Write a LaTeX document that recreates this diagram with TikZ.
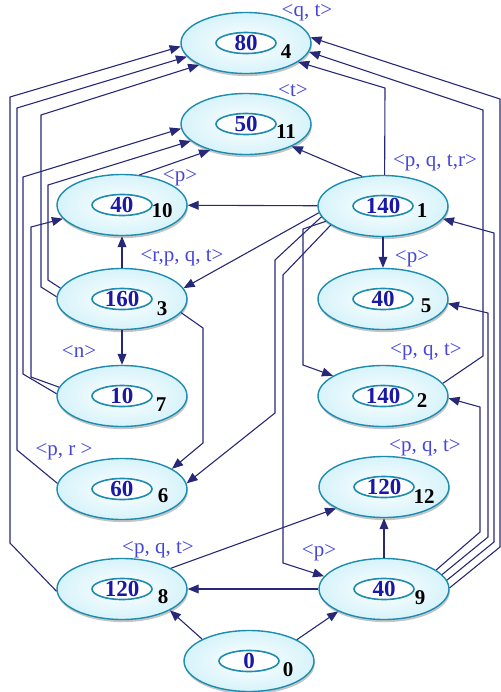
\documentclass[tikz,border=0pt]{standalone}
\usepackage{fontspec}
\setmainfont{Liberation Serif}
\usepackage{tikz}
\usetikzlibrary{shapes.geometric, arrows.meta, shadows}
\usepackage{xcolor}
\definecolor{ringcol}{RGB}{30,140,175}
\definecolor{fillcol}{RGB}{214,243,250}
\definecolor{valcol}{RGB}{25,25,165}
\definecolor{tagcol}{RGB}{70,70,220}
\definecolor{linkcol}{RGB}{40,40,120}

\begin{document}
\begin{tikzpicture}[x=0.5pt, y=-0.5pt,
    state/.style={ellipse, draw=ringcol, line width=0.7pt, minimum width=65pt, minimum height=30.5pt,
        inner color=white, outer color=fillcol,
        drop shadow={shadow xshift=0.4pt, shadow yshift=-1.3pt, fill=black!45}},
    val/.style={ellipse, draw=ringcol, line width=0.8pt, fill=white, minimum width=30pt, minimum height=10.5pt,
        inner sep=0pt, text height=7pt, text depth=0pt, text=valcol, font=\fontsize{11.5}{12}\selectfont\bfseries},
    num/.style={inner sep=0pt, font=\fontsize{10.5}{11}\selectfont\bfseries},
    tag/.style={inner sep=0pt, text=tagcol, font=\fontsize{10.5}{12}\selectfont},
    link/.style={draw=linkcol, line width=0.55pt, -{Triangle[length=5.5pt, width=4.4pt]}}]
    \useasboundingbox (0,0) rectangle (501,692);
    % top
    \node[state] (n4) at (246,43) {};
    \node[val] (v4) at (n4) {80};
    \node[num] (i4) at (286,52) {4};
    \node[tag] (t4) at (307,13) {<q, t>};
    \node[state] (n11) at (246,124) {};
    \node[val] (v11) at (n11) {50};
    \node[num] (i11) at (286,132) {11};
    \node[tag] (t11) at (293,91) {<t>};
    % left column
    \node[state] (n10) at (122,205) {};
    \node[val] (v10) at (n10) {40};
    \node[num] (i10) at (162,211) {10};
    \node[tag] (t10) at (180,178) {<p>};
    \node[state] (n3) at (122,299) {};
    \node[val] (v3) at (n3) {160};
    \node[num] (i3) at (162,309) {3};
    \node[tag] (t3) at (182,258) {<r,p, q, t>};
    \node[state] (n7) at (122,396) {};
    \node[val] (v7) at (n7) {10};
    \node[num] (i7) at (161,405) {7};
    \node[tag] (t7) at (79,351) {<n>};
    \node[state] (n6) at (122,489) {};
    \node[val] (v6) at (n6) {60};
    \node[num] (i6) at (163,496) {6};
    \node[tag] (t6) at (64,452) {<p, r >};
    \node[state] (n8) at (122,589) {};
    \node[val] (v8) at (n8) {120};
    \node[num] (i8) at (163,597) {8};
    \node[tag] (t8) at (158,550) {<p, q, t>};
    % right column
    \node[state] (n1) at (383,206) {};
    \node[val] (v1) at (n1) {140};
    \node[num] (i1) at (422,211) {1};
    \node[tag] (t1) at (435,163) {<p, q, t,r>};
    \node[state] (n5) at (383,299) {};
    \node[val] (v5) at (n5) {40};
    \node[num] (i5) at (426,306) {5};
    \node[tag] (t5) at (412,259) {<p>};
    \node[state] (n2) at (383,396) {};
    \node[val] (v2) at (n2) {140};
    \node[num] (i2) at (422,401) {2};
    \node[tag] (t2) at (426,352) {<p, q, t>};
    \node[state] (n12) at (384,487) {};
    \node[val] (v12) at (n12) {120};
    \node[num] (i12) at (424,497) {12};
    \node[tag] (t12) at (425,448) {<p, q, t>};
    \node[state] (n9) at (384,589) {};
    \node[val] (v9) at (n9) {40};
    \node[num] (i9) at (420,598) {9};
    \node[tag] (t9) at (319,553) {<p>};
    % bottom
    \node[state] (n0) at (249,661) {};
    \node[val] (v0) at (n0) {0};
    \node[num] (i0) at (288,670) {0};
    % straight links
    \draw[link] (n3) -- (n10);
    \draw[link] (n3) -- (n7);
    \draw[link] (n1) -- (n5);
    \draw[link] (n9) -- (n12);
    \draw[link] (n9) -- (n8);
    \draw[link] (n1) -- (n10);
    \draw[link] (n0.155) -- (n8.-24);
    \draw[link] (n0.24) -- (n9.206);
    \draw[link] (n8.23) -- (n12.204);
    \draw[link] (n1.125) -- (n11.-26);
    \draw[link] (n10.60) -- (n11.216);
    \draw[link] (n1.186) -- (n3.10);
    % links from 1 and 3
    \draw[link] (n1.190) -- (275,260) -- (275,413) -- (n6.5);
    \draw[link] (n3.-13) -- (203,328) -- (203,443) -- (n6.22);
    \draw[link] (n1.195) -- (303,229) -- (303,365) -- (n2.158);
    \draw[link] (n1.200) -- (283,275) -- (283,563) -- (n9.168);
    \draw[link] (n1.87) -- (385,88) -- (n4.-20);
    % right side
    \draw[link] (n2.12) -- (483,356) -- (483,110) -- (n4.-8);
    \draw[link] (n9.1) -- (500,547) -- (500,99) -- (n4.5);
    \draw[link] (n9.8) -- (494,542) -- (494,233) -- (n1.-12);
    \draw[link] (n9.14) -- (488,537) -- (488,313) -- (n5.-4);
    \draw[link] (n9.20) -- (480,532) -- (480,407) -- (n2.-2);
    % left side
    \draw[link] (n8.182) -- (10,543) -- (10,97) -- (n4.183);
    \draw[link] (n6.175) -- (17,450) -- (17,108) -- (n4.193);
    \draw[link] (n3.178) -- (41,287) -- (41,115) -- (n4.205);
    \draw[link] (n3.170) -- (48,280) -- (48,185) -- (n11.197);
    \draw[link] (n7.178) -- (23,374) -- (23,177) -- (n11.184);
    \draw[link] (n7.172) -- (31,377) -- (31,227) -- (n10.193);
\end{tikzpicture}
\end{document}
